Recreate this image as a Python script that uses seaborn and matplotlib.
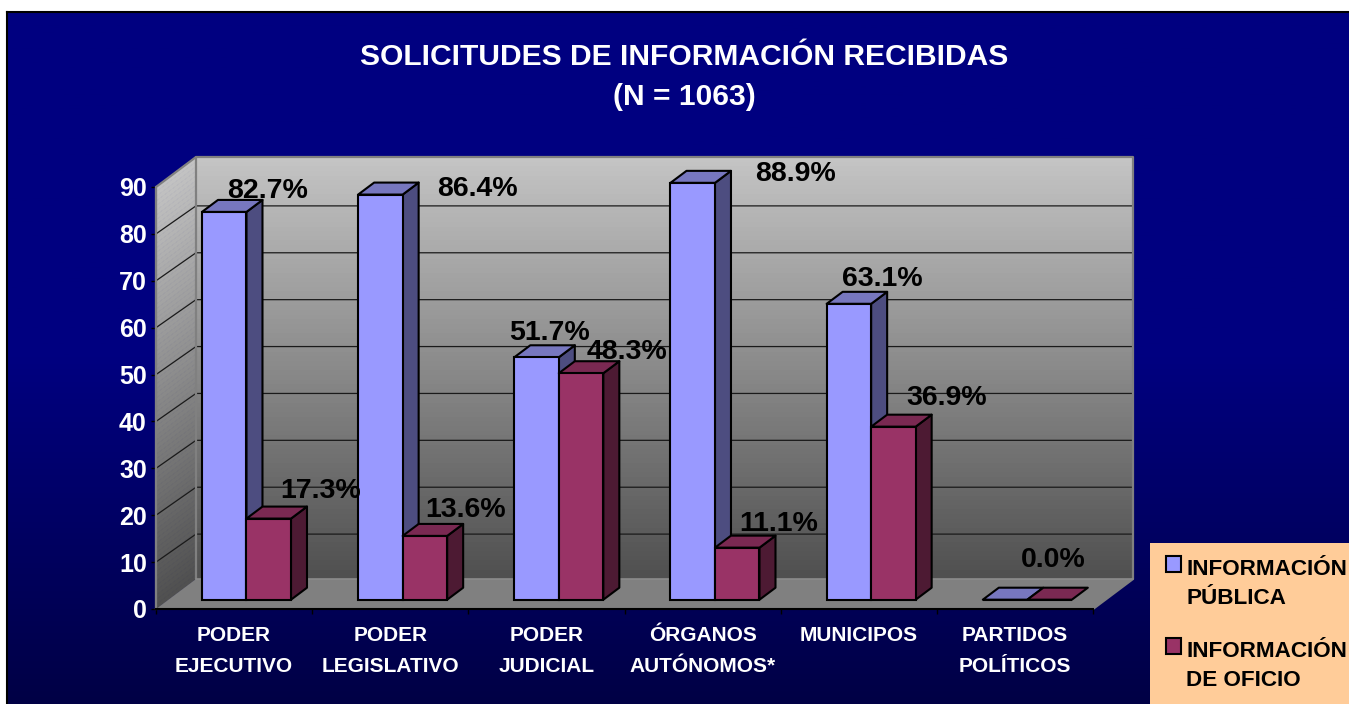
import numpy as np
import pandas as pd
import matplotlib
matplotlib.use("Agg")
import matplotlib.pyplot as plt
from matplotlib.patches import Polygon, Rectangle
from matplotlib.colors import LinearSegmentedColormap
import seaborn as sns

# data
categories = ["PODER\nEJECUTIVO", "PODER\nLEGISLATIVO", "PODER\nJUDICIAL",
              "ÓRGANOS\nAUTÓNOMOS*", "MUNICIPOS", "PARTIDOS\nPOLÍTICOS"]
publica = [82.7, 86.4, 51.7, 88.9, 63.1, 0.0]
oficio = [17.3, 13.6, 48.3, 11.1, 36.9, 0.0]
series_names = ["INFORMACIÓN\nPÚBLICA", "INFORMACIÓN\nDE OFICIO"]
y_ticks = [0, 10, 20, 30, 40, 50, 60, 70, 80, 90]

# label nudges in pixels from the front corner of each bar (None = no label)
nudge_publica = [(56, 30), (109, 15), (25, 34), (115, 18), (46, 34), None]
nudge_oficio = [(64, 37), (53, 35), (58, 31), (54, 33), (66, 38), (16, 49)]

W, H = 1349, 704
sns.set_style("white")
plt.rcParams["font.family"] = ["Liberation Sans", "DejaVu Sans"]
plt.rcParams["font.weight"] = "bold"

fig = plt.figure(figsize=(W / 100, H / 100), dpi=100, facecolor="white")

# gradient background of the slide
bg = fig.add_axes([7 / W, 0, (W - 7) / W, 1 - 12 / H], zorder=0)
bg_cmap = LinearSegmentedColormap.from_list("bg", ["#000080", "#000080", "#000045"])
bg.imshow(np.linspace(0, 1, 256)[:, None], aspect="auto", cmap=bg_cmap)
bg.set_xticks([])
bg.set_yticks([])
for s in ["right", "bottom"]:
    bg.spines[s].set_visible(False)
for s in ["left", "top"]:
    bg.spines[s].set_color("black")
    bg.spines[s].set_linewidth(1.5)

ax = fig.add_axes([156 / W, 1 - 609 / H, 937 / W, 422 / H], zorder=1)
ax.set_facecolor("none")

df = pd.DataFrame({
    "pos": list(range(6)) * 2,
    "serie": [series_names[0]] * 6 + [series_names[1]] * 6,
    "val": publica + oficio,
})
front = ["#9999FF", "#993366"]
top = ["#7777BF", "#7A2952"]
side = ["#4D4D80", "#4D1A33"]
sns.barplot(data=df, x="pos", y="val", hue="serie", palette=front, width=0.57,
            gap=0, saturation=1, edgecolor="black", linewidth=1.5, ax=ax, zorder=5)
ax.set_xlim(-0.5, 5.5)
ax.set_ylim(0, 90)
ax.set_xlabel("")
ax.set_ylabel("")

PX_X = 937 / 6
PX_Y = 422 / 90
DX, DY = 40, 30


def dep(x, v, d):
    # data position pushed back by d (0 front, 1 back wall)
    return x + d * DX / PX_X, v + d * DY / PX_Y


wall_cmap = LinearSegmentedColormap.from_list("wall", ["#505050", "#C4C4C4"])
levels = np.linspace(0, 90, 91)

# back wall
x0, y0 = dep(-0.5, 0, 1)
x1, y1 = dep(5.5, 90, 1)
ax.imshow(levels[:, None], extent=(x0, x1, y0, y1), origin="lower", aspect="auto",
          cmap=wall_cmap, zorder=0.5, clip_on=False)
ax.set_xlim(-0.5, 5.5)
ax.set_ylim(0, 90)

# side wall, same gradient but skewed, built from thin strips
for lo, hi in zip(levels[:-1], levels[1:]):
    col = wall_cmap(lo / 90)
    strip = [dep(-0.5, lo, 0), dep(-0.5, lo, 1), dep(-0.5, hi, 1), dep(-0.5, hi, 0)]
    ax.add_patch(Polygon(strip, closed=True, facecolor=col, edgecolor=col, lw=0.5,
                         zorder=0.5, clip_on=False))

# floor
floor = [dep(-0.5, 0, 0), dep(5.5, 0, 0), dep(5.5, 0, 1), dep(-0.5, 0, 1)]
ax.add_patch(Polygon(floor, closed=True, facecolor="#808080", edgecolor="none",
                     zorder=0.6, clip_on=False))

# grid lines on both walls
for v in y_ticks[1:-1]:
    a = dep(-0.5, v, 0)
    b = dep(-0.5, v, 1)
    c = dep(5.5, v, 1)
    lift = 2 / PX_Y
    ax.plot([a[0], b[0], c[0]], [a[1], b[1] - lift, c[1] - lift], color="#1a1a1a",
            lw=0.9, zorder=0.8, clip_on=False)

# gray frame of the walls
frame = [dep(-0.5, 0, 0), dep(-0.5, 90, 0), dep(-0.5, 90, 1), dep(5.5, 90, 1), dep(5.5, 0, 1), dep(5.5, 0, 0)]
ax.plot(*zip(*frame), color="#808080", lw=1.6, zorder=0.9, clip_on=False)
ax.plot(*zip(dep(-0.5, 0, 1), dep(-0.5, 90, 1)), color="#808080", lw=1.6, zorder=0.9, clip_on=False)
ax.plot(*zip(dep(-0.5, 0, 1), dep(5.5, 0, 1)), color="#8c8c8c", lw=1.2, zorder=0.9, clip_on=False)

# turn flat bars into boxes
D0, D1 = 0.31, 0.71
for i in range(len(categories)):
    for s, cont in enumerate(ax.containers):
        p = cont[i]
        x, w, v = p.get_x(), p.get_width(), p.get_height()
        z = 2 + i * 3 + s
        fx, fy = dep(x, 0, D0)
        p.set_x(fx)
        p.set_y(fy)
        p.set_zorder(z + 0.2)
        p.set_clip_on(False)
        top_pts = [dep(x, v, D0), dep(x + w, v, D0), dep(x + w, v, D1), dep(x, v, D1)]
        ax.add_patch(Polygon(top_pts, closed=True, facecolor=top[s], edgecolor="black",
                             lw=1.5, joinstyle="round", zorder=z + 0.1, clip_on=False))
        if v > 0:
            side_pts = [dep(x + w, 0, D0), dep(x + w, 0, D1), dep(x + w, v, D1), dep(x + w, v, D0)]
            ax.add_patch(Polygon(side_pts, closed=True, facecolor=side[s], edgecolor="black",
                                 lw=1.5, joinstyle="round", zorder=z, clip_on=False))

# value labels
for s, (vals, nudges) in enumerate([(publica, nudge_publica), (oficio, nudge_oficio)]):
    for i, v in enumerate(vals):
        if nudges[i] is None:
            continue
        bar_x = i - 0.57 / 4 + s * 0.57 / 2
        ax.annotate(f"{v:.1f}%", xy=(bar_x, v), xytext=(nudges[i][0] * 0.72, nudges[i][1] * 0.72),
                    textcoords="offset points", ha="center", va="center", fontsize=20.5,
                    fontweight="bold", color="black", zorder=50, annotation_clip=False)

# axes styling
sns.despine(ax=ax, top=True, right=True)
ax.spines["left"].set_color("#808080")
ax.spines["left"].set_linewidth(1.5)
ax.spines["left"].set_zorder(1)
ax.spines["bottom"].set_color("black")
ax.spines["bottom"].set_linewidth(1.5)
ax.spines["bottom"].set_zorder(1)
ax.set_yticks(y_ticks)
ax.set_yticklabels([str(t) for t in y_ticks], fontsize=18, fontweight="bold", color="white")
ax.tick_params(axis="y", length=3.6, width=1, color="black", pad=3, left=True)
ax.set_xticks(range(6))
ax.set_xticklabels(categories, fontsize=15, fontweight="bold", color="white", linespacing=1.75)
ax.tick_params(axis="x", which="major", length=0, pad=12.5, bottom=False)
ax.set_xticks(np.arange(-0.5, 6), minor=True)
ax.tick_params(axis="x", which="minor", length=3.6, width=1, color="black", bottom=True)

# titles
fig.text(684 / W, 1 - 57 / H, "SOLICITUDES DE INFORMACIÓN RECIBIDAS", ha="center", va="center",
         fontsize=21.6, fontweight="bold", color="white", zorder=10)
fig.text(684 / W, 1 - 97 / H, "(N = 1063)", ha="center", va="center",
         fontsize=21.6, fontweight="bold", color="white", zorder=10)

# legend on its peach box
box = Rectangle((1150 / W, 0), (W - 1150) / W, (H - 543) / H, transform=fig.transFigure,
                facecolor="#FFCC99", edgecolor="none", zorder=5)
fig.add_artist(box)
handles, labels = ax.get_legend_handles_labels()
leg = ax.legend(handles, labels, loc="upper left", bbox_to_anchor=(1154 / W, 1 - 552 / H),
                bbox_transform=fig.transFigure, frameon=False, fontsize=16.2, handlelength=0.68,
                handleheight=0.68, handletextpad=0.45, labelspacing=1.42, borderpad=0.3,
                borderaxespad=0, labelcolor="black")
leg.set_zorder(60)
for t in leg.get_texts():
    t.set_linespacing(1.5)
    t.set_fontweight("bold")
for h in leg.legend_handles:
    h.set_edgecolor("black")
    h.set_linewidth(1.5)
    h.set_y(h.get_y() + 14.4)
    h.set_x(h.get_x() + 3.6)

ax.set_zorder(6)
fig.savefig("out.png", dpi=100, facecolor="white")
